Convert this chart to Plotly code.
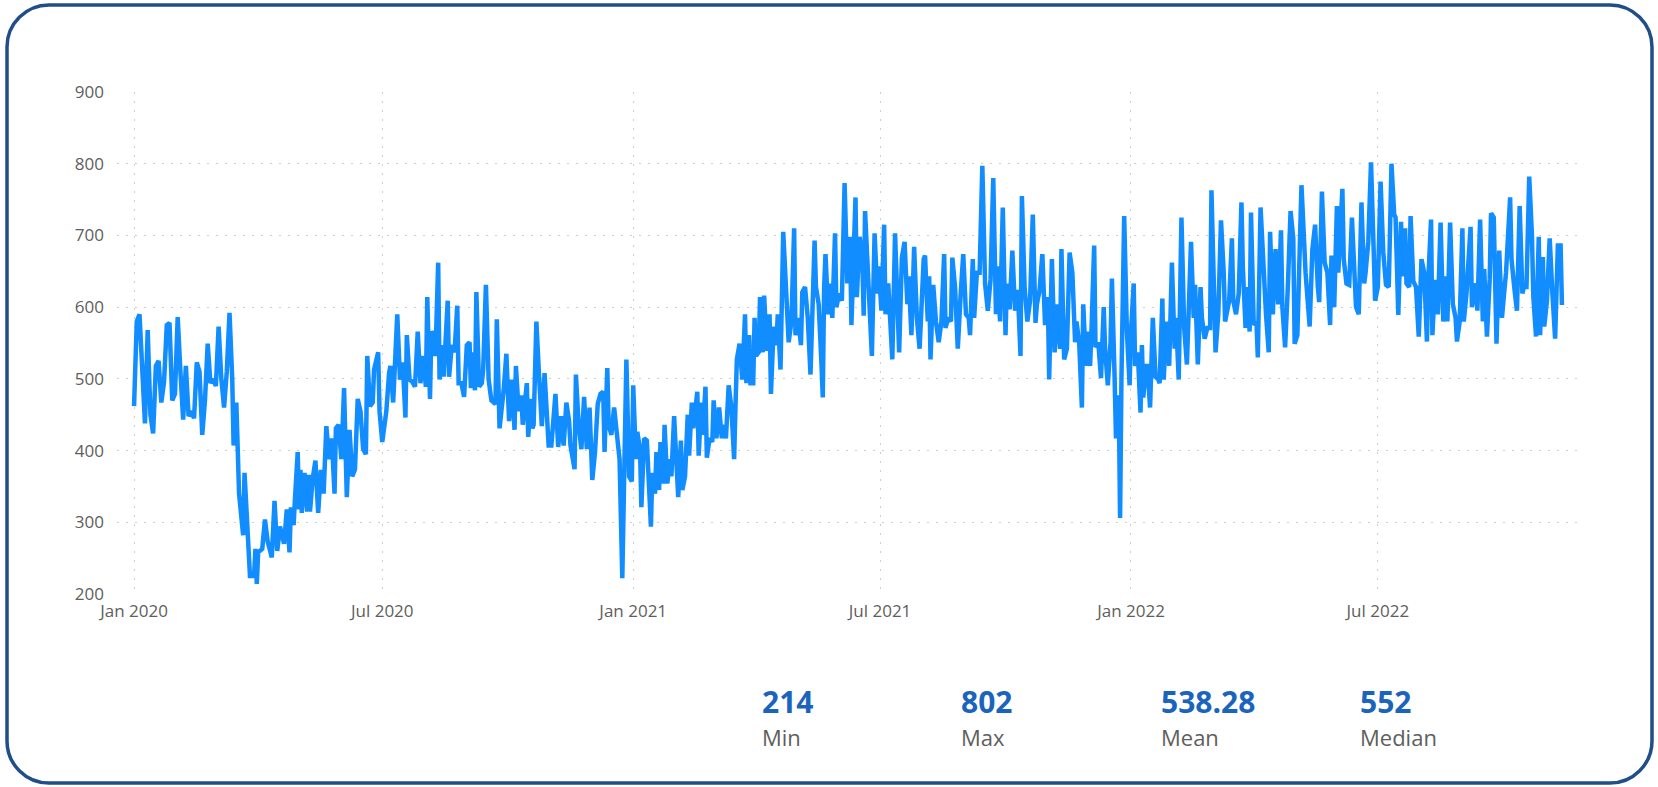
import plotly.graph_objects as go
import pandas as pd

# ---------------- data (day offset from 2020-01-01, value) ----------------
start_date = "2020-01-01"

points_2020 = [
    (0, 462), (1, 549), (2, 580), (4, 590), (6, 500), (8, 438), (10, 568), (12, 450), (14, 424), (16, 518),
    (18, 525), (20, 467), (22, 496), (24, 575), (26, 578), (28, 470), (30, 479), (32, 586), (34, 510), (36, 443),
    (38, 518), (40, 448), (42, 455), (44, 445), (46, 523), (48, 510), (50, 422), (52, 470), (54, 549), (56, 494),
    (58, 500), (60, 490), (62, 573), (64, 500), (66, 460), (68, 510), (70, 592), (72, 500), (73, 407), (75, 467),
    (77, 340), (80, 282), (81, 369), (83, 282), (85, 225), (88, 225), (89, 263), (90, 214), (91, 258), (94, 263),
    (96, 304), (98, 273), (101, 251), (103, 330), (105, 260), (107, 294), (110, 270), (112, 318), (114, 258), (115, 321),
    (117, 296), (118, 333), (120, 398), (121, 318), (122, 373), (123, 313), (125, 369), (127, 315), (128, 366), (129, 315),
    (131, 361), (133, 386), (134, 330), (135, 313), (137, 373), (139, 340), (141, 434), (143, 388), (145, 417), (147, 340),
    (148, 431), (150, 436), (152, 388), (153, 455), (154, 487), (156, 335), (158, 429), (160, 364), (162, 374), (164, 472),
    (166, 455), (168, 402), (170, 395), (171, 532), (173, 462), (175, 467), (176, 513), (179, 537), (180, 455), (182, 412),
    (184, 446), (185, 455), (187, 508), (188, 518), (190, 467), (191, 518), (193, 590), (195, 499), (197, 523), (199, 446),
    (200, 561), (202, 499), (204, 496), (206, 489), (208, 566), (210, 494), (212, 532), (214, 489), (215, 614), (217, 472),
    (218, 566), (219, 563), (221, 532), (223, 662), (224, 499), (226, 547), (227, 503), (230, 609), (231, 503), (233, 547),
    (235, 537), (237, 602), (238, 494), (240, 494), (242, 475), (244, 547), (246, 551), (247, 487), (248, 537), (250, 484),
    (251, 621), (253, 489), (255, 494), (256, 513), (258, 631), (260, 499), (262, 470), (265, 465), (266, 583), (268, 431),
    (269, 446), (271, 484), (273, 535), (275, 441), (277, 499), (279, 429), (280, 518), (282, 455), (284, 477), (285, 436),
    (288, 494), (289, 419), (291, 472), (292, 431), (293, 436), (295, 580), (297, 503), (299, 434), (301, 508), (303, 446),
    (304, 407), (306, 407), (309, 479), (311, 405), (313, 448), (315, 407), (317, 467), (319, 441), (320, 407), (323, 374),
    (324, 506), (326, 436), (328, 402), (330, 475), (332, 402), (334, 460), (336, 359), (338, 398), (340, 465), (342, 479),
    (344, 482), (345, 398), (347, 515), (348, 436), (350, 422), (352, 460), (354, 417), (356, 388), (358, 222), (360, 431),
    (361, 527), (363, 364), (365, 357),
]

points_2021 = [
    (366, 491), (368, 388), (369, 426), (371, 402), (372, 321), (374, 417), (376, 414), (377, 369), (379, 294), (380, 369),
    (382, 340), (383, 398), (385, 345), (386, 412), (388, 354), (389, 436), (391, 354), (393, 388), (394, 364), (396, 448),
    (398, 388), (399, 335), (401, 414), (402, 345), (404, 364), (406, 450), (407, 393), (409, 467), (410, 431), (413, 482),
    (414, 393), (416, 467), (417, 422), (419, 489), (420, 390), (422, 417), (424, 412), (425, 470), (427, 417), (429, 460),
    (431, 417), (432, 436), (434, 417), (436, 491), (438, 460), (440, 388), (441, 462), (442, 527), (444, 549), (446, 499),
    (448, 590), (449, 494), (451, 561), (452, 494), (454, 494), (455, 585), (456, 532), (458, 537), (459, 614), (461, 537),
    (462, 616), (464, 539), (466, 590), (467, 479), (469, 573), (471, 547), (472, 590), (474, 513), (476, 705), (478, 628),
    (480, 551), (482, 580), (484, 710), (485, 561), (487, 585), (489, 547), (490, 621), (492, 628), (494, 585), (496, 506),
    (499, 693), (500, 628), (502, 604), (504, 523), (505, 474), (506, 628), (507, 674), (509, 590), (510, 633), (512, 585),
    (514, 703), (515, 600), (517, 619), (519, 609), (521, 773), (523, 633), (525, 698), (526, 575), (529, 753), (530, 614),
    (532, 698), (534, 667), (535, 588), (536, 734), (538, 655), (541, 532), (543, 703), (545, 619), (546, 657), (548, 595),
    (550, 715), (551, 590), (553, 633), (554, 590), (556, 527), (558, 703), (560, 604), (561, 537), (563, 669), (565, 691),
    (567, 604), (568, 643), (570, 561), (572, 684), (574, 585), (576, 542), (579, 667), (580, 672), (582, 580), (583, 643),
    (584, 527), (586, 631), (588, 580), (590, 551), (592, 580), (594, 674), (595, 571), (597, 585), (599, 580), (600, 669),
    (602, 628), (604, 542), (606, 614), (608, 674), (610, 590), (612, 585), (613, 561), (615, 667), (616, 585), (618, 648),
    (620, 648), (622, 797), (624, 633), (626, 595), (628, 638), (630, 780), (632, 590), (633, 657), (635, 580), (637, 739),
    (639, 561), (640, 633), (642, 597), (644, 679), (646, 595), (648, 624), (650, 532), (651, 755), (653, 628), (655, 580),
    (657, 609), (659, 729), (661, 578), (662, 604), (664, 624), (666, 674), (668, 575), (670, 614), (671, 499), (673, 667),
    (675, 537), (677, 604), (679, 542), (680, 681), (682, 527), (684, 542), (686, 676), (688, 648), (690, 551), (691, 580),
    (693, 551), (695, 460), (696, 604), (698, 518), (699, 566), (701, 518), (702, 566), (704, 686), (705, 544), (707, 551),
    (709, 501), (711, 600), (712, 542), (714, 491), (716, 551), (717, 640), (719, 501), (720, 417), (722, 477), (723, 306),
    (724, 499), (726, 727), (728, 566), (730, 491),
]

points_2022 = [
    (731, 566), (733, 633), (734, 518), (736, 537), (738, 453), (739, 547), (740, 474), (742, 518), (743, 518), (745, 460),
    (747, 585), (749, 503), (751, 499), (752, 494), (754, 612), (755, 499), (757, 580), (759, 518), (761, 662), (763, 542),
    (764, 585), (766, 499), (768, 725), (770, 571), (772, 520), (775, 691), (777, 585), (778, 631), (780, 520), (782, 628),
    (783, 585), (785, 556), (787, 571), (789, 571), (790, 763), (792, 600), (793, 537), (795, 590), (797, 721), (799, 648),
    (800, 580), (803, 609), (805, 696), (806, 609), (808, 590), (810, 619), (812, 746), (813, 657), (815, 571), (816, 628),
    (818, 566), (819, 732), (821, 575), (823, 580), (824, 530), (826, 739), (828, 648), (830, 590), (832, 537), (833, 705),
    (835, 590), (837, 681), (839, 604), (841, 707), (842, 600), (844, 544), (846, 628), (848, 734), (850, 696), (851, 549),
    (853, 561), (854, 643), (856, 770), (859, 648), (861, 604), (862, 573), (864, 681), (866, 715), (868, 628), (869, 607),
    (871, 761), (873, 662), (875, 648), (877, 575), (878, 672), (880, 600), (882, 741), (883, 648), (886, 765), (887, 667),
    (889, 633), (891, 631), (893, 725), (894, 686), (896, 600), (898, 590), (900, 746), (902, 633), (903, 648), (905, 691),
    (907, 802), (909, 676), (910, 609), (912, 628), (914, 775), (916, 676), (918, 631), (920, 628), (922, 800), (924, 729),
    (925, 725), (927, 589), (929, 719), (930, 643), (932, 710), (933, 633), (935, 628), (936, 727), (938, 636), (940, 628),
    (942, 559), (944, 667), (946, 648), (948, 552), (949, 638), (951, 722), (952, 561), (954, 638), (956, 590), (958, 718),
    (960, 580), (962, 643), (963, 580), (965, 718), (967, 604), (969, 585), (970, 552), (972, 580), (974, 710), (975, 580),
    (977, 619), (980, 712), (981, 600), (984, 633), (985, 595), (987, 722), (989, 580), (990, 653), (992, 559), (994, 638),
    (995, 731), (997, 725), (999, 549), (1001, 679), (1003, 585), (1005, 628), (1006, 648), (1009, 753), (1010, 667), (1012, 628),
    (1014, 595), (1016, 741), (1018, 619), (1019, 628), (1021, 628), (1023, 782), (1025, 700), (1026, 615), (1028, 559), (1030, 698),
    (1031, 561), (1033, 670), (1034, 573), (1036, 609), (1038, 696), (1040, 619), (1042, 556), (1044, 686), (1046, 686), (1047, 603),
]

tick_dates = ["2020-01-01", "2020-07-01", "2021-01-01", "2021-07-01", "2022-01-01", "2022-07-01"]
tick_labels = ["Jan 2020", "Jul 2020", "Jan 2021", "Jul 2021", "Jan 2022", "Jul 2022"]

stat_labels = ["Min", "Max", "Mean", "Median"]
stat_values = ["214", "802", "538.28", "552"]

# ---------------- build ----------------
all_points = points_2020 + points_2021 + points_2022
day_offsets = [p[0] for p in all_points]
values = [p[1] for p in all_points]
dates = pd.Timestamp(start_date) + pd.to_timedelta(day_offsets, unit="D")

W, H = 1658, 787
ML, MR, MT, MB = 117, 79, 92, 193
PW, PH = W - ML - MR, H - MT - MB

def paper(x, y):
    return (x - ML) / PW, (H - MB - y) / PH

FONT = "Segoe UI, Open Sans, sans-serif"
GRID = "#CFCFCF"
TICK_COLOR = "#605E5C"

fig = go.Figure()
fig.add_trace(go.Scatter(
    x=dates, y=values, mode="lines",
    line=dict(color="#118DFF", width=4.5),
    hoverinfo="skip", showlegend=False,
))

fig.update_layout(
    width=W, height=H,
    margin=dict(l=ML, r=MR, t=MT, b=MB, pad=0),
    paper_bgcolor="white", plot_bgcolor="white",
    font=dict(family=FONT, color=TICK_COLOR),
    xaxis=dict(
        type="date",
        range=["2019-12-19 12:00", "2022-11-25 12:00"],
        tickmode="array", tickvals=tick_dates, ticktext=tick_labels,
        showgrid=True, gridcolor=GRID, gridwidth=1, griddash="2px,7px",
        showline=False, zeroline=False, ticks="",
        tickfont=dict(size=17, color=TICK_COLOR, family=FONT),
        ticklabelstandoff=5,
    ),
    yaxis=dict(
        range=[200, 900], tick0=200, dtick=100,
        showgrid=True, gridcolor=GRID, gridwidth=1, griddash="2px,7px",
        showline=False, zeroline=False, ticks="",
        tickfont=dict(size=17, color=TICK_COLOR, family=FONT),
        ticklabelstandoff=12,
    ),
)

# statistics cards
stat_x = [760, 959, 1159, 1358]
for sx, val, lab in zip(stat_x, stat_values, stat_labels):
    px, py = paper(sx, 701)
    fig.add_annotation(x=px, y=py, xref="paper", yref="paper", text="<b>" + val + "</b>",
                       showarrow=False, xanchor="left", yanchor="middle",
                       font=dict(size=30, color="#1A64BE", family=FONT))
    px, py = paper(sx, 737)
    fig.add_annotation(x=px, y=py, xref="paper", yref="paper", text=lab,
                       showarrow=False, xanchor="left", yanchor="middle",
                       font=dict(size=22, color=TICK_COLOR, family=FONT))

# rounded border
L, T, R, B, r = 7, 5, 1652, 783, 42
k = 0.5523 * r
def P(x, y):
    a, b = paper(x, y)
    return f"{a:.6f},{b:.6f}"
path = (
    f"M {P(L + r, T)} L {P(R - r, T)} "
    f"C {P(R - r + k, T)} {P(R, T + r - k)} {P(R, T + r)} "
    f"L {P(R, B - r)} "
    f"C {P(R, B - r + k)} {P(R - r + k, B)} {P(R - r, B)} "
    f"L {P(L + r, B)} "
    f"C {P(L + r - k, B)} {P(L, B - r + k)} {P(L, B - r)} "
    f"L {P(L, T + r)} "
    f"C {P(L, T + r - k)} {P(L + r - k, T)} {P(L + r, T)} Z"
)
fig.add_shape(type="path", path=path, xref="paper", yref="paper",
              line=dict(color="#1F4E89", width=3.5), fillcolor="rgba(0,0,0,0)", layer="above")

fig.write_html(
    "out.html",
    config={"displayModeBar": False, "staticPlot": True},
    post_script="document.body.style.margin='0';document.body.style.overflow='hidden';",
)
